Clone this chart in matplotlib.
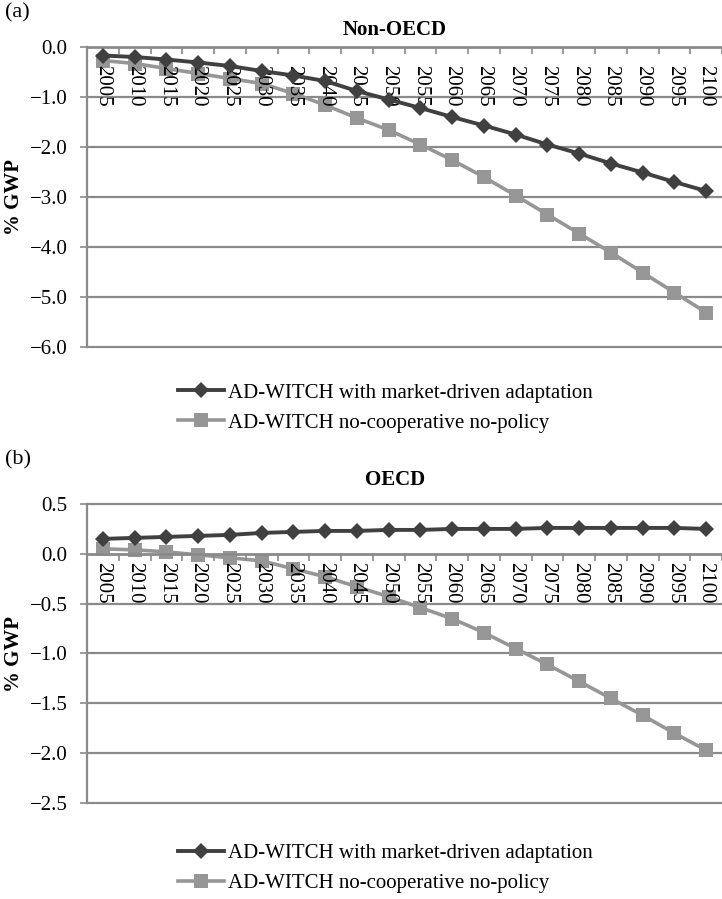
import matplotlib
matplotlib.use("Agg")
import matplotlib.pyplot as plt
import numpy as np

plt.rcParams["font.family"] = ["Liberation Serif", "DejaVu Serif"]

# ---- data ---------------------------------------------------------------
years = [str(y) for y in range(2005, 2101, 5)]

series_labels = ["AD-WITCH with market-driven adaptation",
                 "AD-WITCH no-cooperative no-policy"]

non_oecd_adapt = [-0.17, -0.20, -0.25, -0.31, -0.38, -0.48, -0.57, -0.68, -0.88, -1.05,
                  -1.22, -1.40, -1.57, -1.75, -1.95, -2.13, -2.33, -2.51, -2.70, -2.88]
non_oecd_nopol = [-0.27, -0.33, -0.43, -0.53, -0.63, -0.73, -0.93, -1.16, -1.42, -1.66,
                  -1.95, -2.26, -2.60, -2.97, -3.35, -3.73, -4.11, -4.51, -4.91, -5.31]

oecd_adapt = [0.15, 0.16, 0.17, 0.18, 0.19, 0.21, 0.22, 0.23, 0.23, 0.24,
              0.24, 0.25, 0.25, 0.25, 0.26, 0.26, 0.26, 0.26, 0.26, 0.25]
oecd_nopol = [0.05, 0.04, 0.02, -0.01, -0.04, -0.07, -0.15, -0.23, -0.33, -0.43,
              -0.54, -0.65, -0.79, -0.95, -1.11, -1.28, -1.45, -1.62, -1.80, -1.97]

non_oecd_yticks = [0.0, -1.0, -2.0, -3.0, -4.0, -5.0, -6.0]
oecd_yticks = [0.5, 0.0, -0.5, -1.0, -1.5, -2.0, -2.5]

# ---- styling ------------------------------------------------------------
W, H = 722, 899
DARK = "#404040"
LIGHT = "#969696"
GRID = "#8a8a8a"
FS = 15

fig = plt.figure(figsize=(W / 100, H / 100), dpi=100)
fig.patch.set_facecolor("white")


def fmt(v):
    return f"{v:.1f}".replace("-", "\u2212")


def panel(top_px, bottom_px, adapt, nopol, yticks, title, tag,
          title_y, tag_y, legend_y, label_pad):
    left_px, right_px = 87, 722
    ax = fig.add_axes([left_px / W, 1 - bottom_px / H,
                       (right_px - left_px) / W, (bottom_px - top_px) / H])
    x = np.arange(len(years))
    ax.set_xlim(-0.5, len(years) - 0.5)
    ax.set_ylim(min(yticks), max(yticks))

    # horizontal gridlines (the zero line is the category axis)
    for v in yticks:
        if v != 0:
            ax.axhline(v, color=GRID, lw=1.6, zorder=0.5, clip_on=False)

    l1, = ax.plot(x, adapt, color=DARK, lw=2.8, marker="D", ms=8.5,
                  markeredgewidth=0, zorder=3)
    l2, = ax.plot(x, nopol, color=LIGHT, lw=2.6, marker="s", ms=10.5,
                  markeredgewidth=0, zorder=2)

    for s in ("top", "right"):
        ax.spines[s].set_visible(False)
    ax.spines["left"].set_color(GRID)
    ax.spines["left"].set_linewidth(1.6)
    ax.spines["bottom"].set_position(("data", 0))
    ax.spines["bottom"].set_color(GRID)
    ax.spines["bottom"].set_linewidth(2.0)

    ax.set_axisbelow(False)

    ax.set_yticks(yticks)
    ax.set_yticklabels([fmt(v) for v in yticks])
    ax.tick_params(axis="y", direction="out", length=5, width=1.2,
                   color=GRID, labelsize=FS, pad=9)

    ax.set_xticks(np.arange(-0.5, len(years)), minor=False)
    ax.set_xticklabels([])
    ax.set_xticks(x, minor=True)
    ax.set_xticklabels(years, minor=True, rotation=270, fontsize=FS)
    ax.tick_params(axis="x", which="major", direction="out", length=5,
                   width=1.2, color=GRID)
    ax.tick_params(axis="x", which="minor", length=0, pad=label_pad)
    for lab in ax.get_xticklabels(minor=True):
        lab.set_va("top")
        lab.set_ha("center")

    ax.set_facecolor("none")

    fig.text(395 / W, 1 - title_y / H, title, ha="center", va="center",
             fontsize=FS, fontweight="bold")
    fig.text(5 / W, 1 - tag_y / H, tag, ha="left", va="center", fontsize=FS + 1)
    fig.text(14 / W, 1 - (top_px + bottom_px) / 2 / H, "% GWP", rotation=90,
             ha="center", va="center", fontsize=FS, fontweight="bold")

    ax.legend([l1, l2], series_labels, loc="center left",
              bbox_to_anchor=(178 / W, 1 - legend_y / H),
              bbox_transform=fig.transFigure, frameon=False, fontsize=FS,
              handlelength=2.2, handletextpad=0.2, labelspacing=0.5,
              borderpad=0, borderaxespad=0, numpoints=1)
    return ax


panel(47, 347, non_oecd_adapt, non_oecd_nopol, non_oecd_yticks,
      "Non-OECD", "(a)", 30, 13, 408, 13)
panel(504, 803, oecd_adapt, oecd_nopol, oecd_yticks,
      "OECD", "(b)", 480, 460, 868, 6)

fig.savefig("out.png", dpi=100, facecolor="white")
